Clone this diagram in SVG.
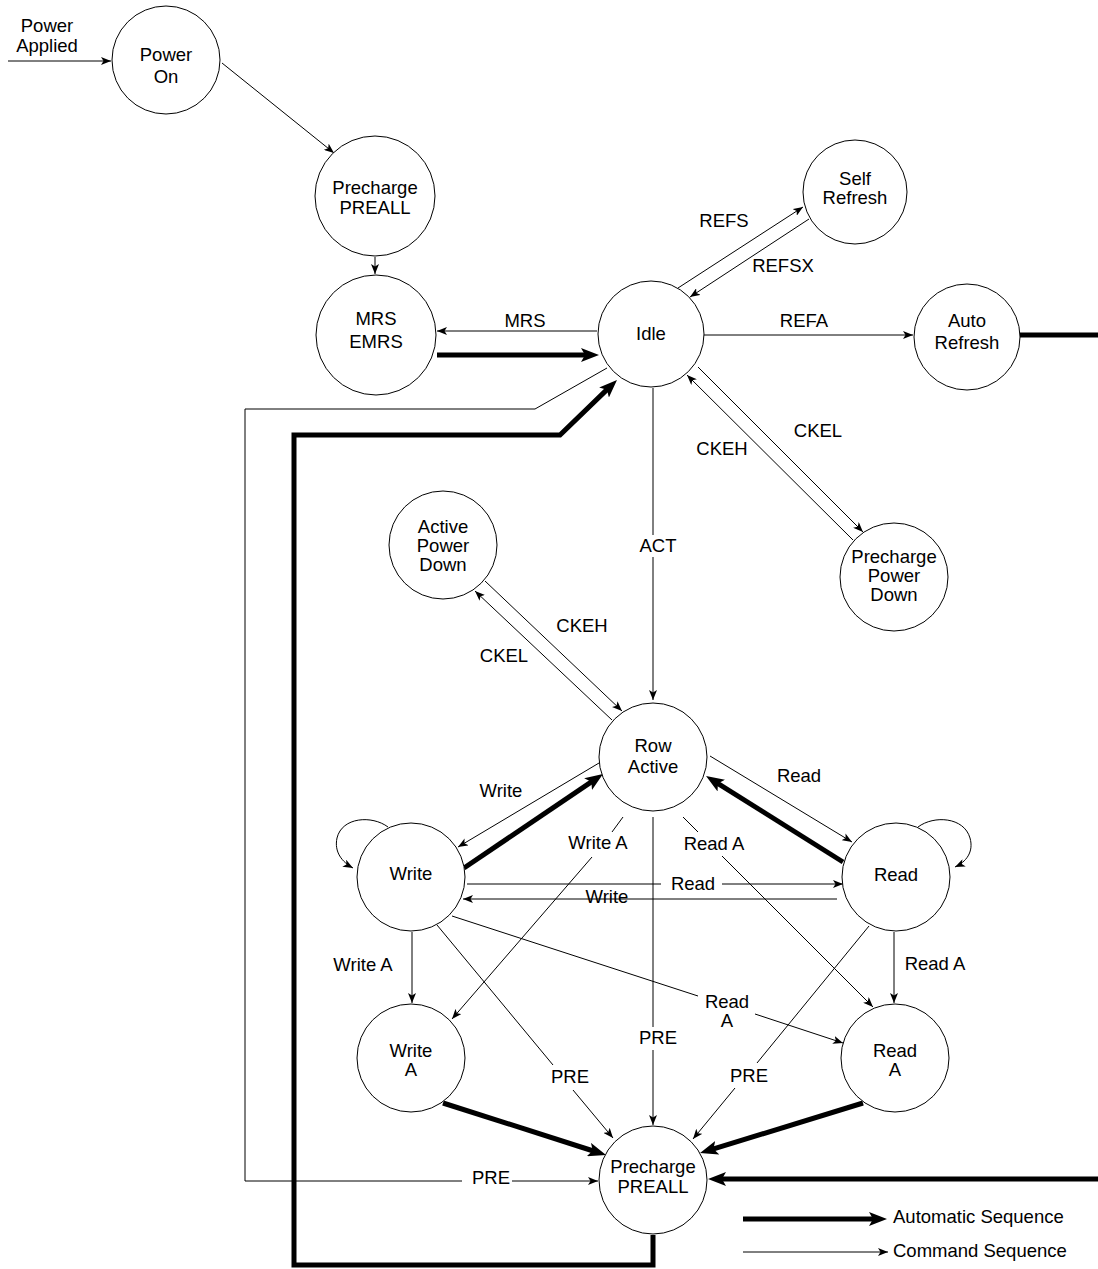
<svg xmlns="http://www.w3.org/2000/svg" width="1098" height="1269" viewBox="0 0 1098 1269">
<defs>
<style>
.n{fill:#fff;stroke:#000;stroke-width:1}
.t{font-family:"Liberation Sans",Arial,sans-serif;font-size:18.5px;fill:#000;text-anchor:middle}
.ts{font-family:"Liberation Sans",Arial,sans-serif;font-size:18.5px;fill:#000;text-anchor:start}
.c{fill:none;stroke:#000;stroke-width:1}
.k{fill:none;stroke:#000;stroke-width:5}
.a{marker-end:url(#ah)}
.ak{marker-end:url(#ahk)}
</style>
<marker id="ah" viewBox="0 0 10 8" refX="10" refY="4" markerWidth="10" markerHeight="8" markerUnits="userSpaceOnUse" orient="auto">
<path d="M0,0 L10,4 L0,8 L2.5,4 z" fill="#000"/>
</marker>
<marker id="ahk" viewBox="0 0 18 14" refX="8" refY="7" markerWidth="18" markerHeight="14" markerUnits="userSpaceOnUse" orient="auto">
<path d="M0,0 L18,7 L0,14 L4,7 z" fill="#000"/>
</marker>
</defs>
<rect width="1098" height="1269" fill="#fff"/>

<g id="connectors">
<line class="c a" x1="8" y1="61" x2="111" y2="61"/>
<line class="c a" x1="222" y1="63" x2="334" y2="153"/>
<line class="c a" x1="375" y1="257" x2="375" y2="274"/>
<line class="c a" x1="597" y1="331" x2="437" y2="331"/>
<line class="c a" x1="678" y1="288" x2="803" y2="207"/>
<line class="c a" x1="809" y1="219" x2="690" y2="297"/>
<line class="c a" x1="704" y1="335" x2="913" y2="335"/>
<line class="c a" x1="698" y1="367" x2="863" y2="532"/>
<line class="c a" x1="853" y1="540" x2="687" y2="375"/>
<line class="c" x1="653" y1="388" x2="653" y2="535"/>
<line class="c a" x1="653" y1="557" x2="653" y2="700"/>
<line class="c a" x1="612" y1="720" x2="475" y2="591"/>
<line class="c a" x1="485" y1="581" x2="622" y2="711"/>
<path class="c" d="M607,368 L535,409 L245,409 L245,1181 L462,1181"/>
<line class="c a" x1="512" y1="1181" x2="598" y2="1181"/>
<line class="c a" x1="599" y1="763" x2="458" y2="847"/>
<line class="c a" x1="710" y1="756" x2="852" y2="842"/>
<path class="c a" d="M388,827 C372,815 342,817 337,838 C334,852 342,862 353,868"/>
<path class="c a" d="M918,827 C934,815 964,817 970,838 C974,852 966,862 955,867"/>
<line class="c" x1="467" y1="884" x2="661" y2="884"/>
<line class="c a" x1="722" y1="884" x2="843" y2="884"/>
<line class="c a" x1="837" y1="899" x2="463" y2="899"/>
<line class="c" x1="623" y1="817" x2="612" y2="832"/>
<line class="c a" x1="592" y1="857" x2="452" y2="1019"/>
<line class="c" x1="683" y1="817" x2="698" y2="832"/>
<line class="c a" x1="722" y1="856" x2="873" y2="1007"/>
<line class="c" x1="653" y1="817" x2="653" y2="1027"/>
<line class="c a" x1="653" y1="1050" x2="653" y2="1125"/>
<line class="c a" x1="412" y1="932" x2="412" y2="1003"/>
<line class="c a" x1="894" y1="932" x2="894" y2="1003"/>
<line class="c" x1="452" y1="916" x2="698" y2="996"/>
<line class="c a" x1="755" y1="1014" x2="843" y2="1043"/>
<line class="c" x1="437" y1="925" x2="553" y2="1065"/>
<line class="c a" x1="573" y1="1090" x2="613" y2="1138"/>
<line class="c" x1="869" y1="926" x2="757" y2="1063"/>
<line class="c a" x1="735" y1="1088" x2="693" y2="1139"/>
<line class="k ak" x1="437" y1="355" x2="589" y2="355"/>
<path class="k ak" d="M653,1235 L653,1265 L294,1265 L294,435 L560,435 L609.8,386.9"/>
<line class="k" x1="1020" y1="335" x2="1098" y2="335"/>
<line class="k ak" x1="464" y1="868" x2="594.7" y2="779.6"/>
<line class="k ak" x1="843" y1="862" x2="714.5" y2="781.3"/>
<line class="k ak" x1="443" y1="1103" x2="596.5" y2="1152"/>
<line class="k ak" x1="863" y1="1103" x2="709.6" y2="1150.1"/>
<line class="k ak" x1="1098" y1="1179" x2="718" y2="1179"/>
<text class="t" x="47" y="32">Power</text>
<text class="t" x="47" y="52">Applied</text>
<text class="t" x="525" y="327">MRS</text>
<text class="t" x="724" y="227">REFS</text>
<text class="t" x="783" y="272">REFSX</text>
<text class="t" x="804" y="327">REFA</text>
<text class="t" x="818" y="437">CKEL</text>
<text class="t" x="722" y="455">CKEH</text>
<text class="t" x="658" y="552">ACT</text>
<text class="t" x="582" y="632">CKEH</text>
<text class="t" x="504" y="662">CKEL</text>
<text class="t" x="501" y="797">Write</text>
<text class="t" x="799" y="782">Read</text>
<text class="t" x="598" y="849">Write A</text>
<text class="t" x="714" y="850">Read A</text>
<text class="t" x="693" y="890">Read</text>
<text class="t" x="607" y="903">Write</text>
<text class="t" x="363" y="971">Write A</text>
<text class="t" x="935" y="970">Read A</text>
<text class="t" x="727" y="1008">Read</text>
<text class="t" x="727" y="1027">A</text>
<text class="t" x="658" y="1044">PRE</text>
<text class="t" x="570" y="1083">PRE</text>
<text class="t" x="749" y="1082">PRE</text>
<text class="t" x="491" y="1184">PRE</text>
</g>

<g id="legend">
<line class="k ak" x1="743" y1="1219" x2="877" y2="1219"/>
<text class="ts" x="893" y="1223">Automatic Sequence</text>
<line class="c a" x1="743" y1="1252" x2="888" y2="1252"/>
<text class="ts" x="893" y="1257">Command Sequence</text>
</g>

<g id="power_on"><circle class="n" cx="166" cy="60" r="54"/><text class="t" x="166" y="61">Power</text><text class="t" x="166" y="83">On</text></g>
<g id="precharge_init"><circle class="n" cx="375" cy="196" r="60"/><text class="t" x="375" y="194">Precharge</text><text class="t" x="375" y="214">PREALL</text></g>
<g id="mrs_emrs"><circle class="n" cx="376" cy="335" r="60"/><text class="t" x="376" y="325">MRS</text><text class="t" x="376" y="348">EMRS</text></g>
<g id="idle"><circle class="n" cx="651" cy="334" r="53"/><text class="t" x="651" y="340">Idle</text></g>
<g id="self_refresh"><circle class="n" cx="855" cy="192" r="52"/><text class="t" x="855" y="185">Self</text><text class="t" x="855" y="204">Refresh</text></g>
<g id="auto_refresh"><circle class="n" cx="967" cy="337" r="53"/><text class="t" x="967" y="327">Auto</text><text class="t" x="967" y="349">Refresh</text></g>
<g id="precharge_power_down"><circle class="n" cx="894" cy="577" r="54"/><text class="t" x="894" y="563">Precharge</text><text class="t" x="894" y="582">Power</text><text class="t" x="894" y="601">Down</text></g>
<g id="active_power_down"><circle class="n" cx="443" cy="545" r="54"/><text class="t" x="443" y="533">Active</text><text class="t" x="443" y="552">Power</text><text class="t" x="443" y="571">Down</text></g>
<g id="row_active"><circle class="n" cx="653" cy="757" r="54"/><text class="t" x="653" y="752">Row</text><text class="t" x="653" y="773">Active</text></g>
<g id="write"><circle class="n" cx="411" cy="877" r="54"/><text class="t" x="411" y="880">Write</text></g>
<g id="read"><circle class="n" cx="896" cy="877" r="54"/><text class="t" x="896" y="881">Read</text></g>
<g id="write_a"><circle class="n" cx="411" cy="1058" r="54"/><text class="t" x="411" y="1057">Write</text><text class="t" x="411" y="1076">A</text></g>
<g id="read_a"><circle class="n" cx="895" cy="1058" r="54"/><text class="t" x="895" y="1057">Read</text><text class="t" x="895" y="1076">A</text></g>
<g id="precharge_preall"><circle class="n" cx="653" cy="1180" r="54"/><text class="t" x="653" y="1173">Precharge</text><text class="t" x="653" y="1193">PREALL</text></g>
</svg>
